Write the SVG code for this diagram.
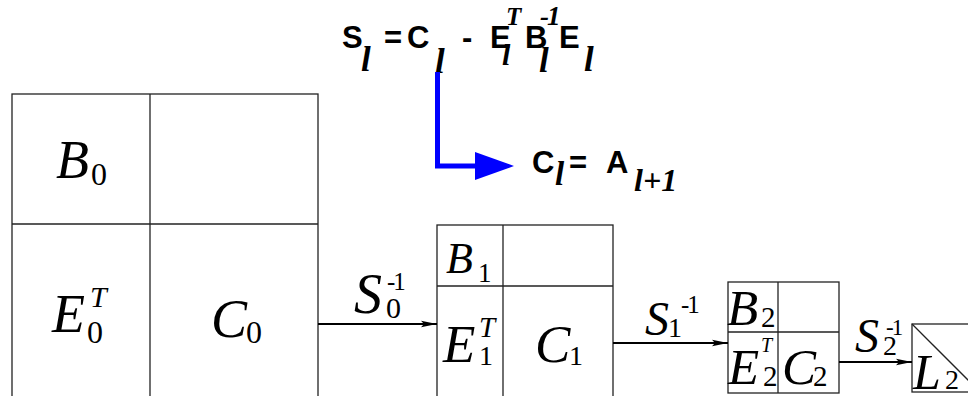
<svg xmlns="http://www.w3.org/2000/svg" width="968" height="396" viewBox="0 0 968 396">
<style>
.box{fill:none;stroke:#222;stroke-width:1.3}
.m{font-family:"Liberation Serif","Times New Roman",serif;font-style:italic;fill:#000}
.s{font-family:"Liberation Serif","Times New Roman",serif;fill:#000}
.f{font-family:"Liberation Sans",Arial,sans-serif;font-weight:bold;font-size:31px;fill:#000}
.fi{font-family:"Liberation Serif","Times New Roman",serif;font-weight:bold;font-style:italic;fill:#000}
.arr{stroke:#000;stroke-width:2;fill:none;marker-end:url(#ah)}
.sup{letter-spacing:-2px}
</style>
<defs>
<marker id="ah" markerUnits="userSpaceOnUse" markerWidth="18" markerHeight="8" refX="16" refY="4" orient="auto">
<path d="M0,0.8 L16,4 L0,7.2 L3,4 Z" fill="#000"/>
</marker>
</defs>
<rect width="968" height="396" fill="#fff"/>

<g id="formula">
<text class="f" x="342" y="48">S</text>
<text class="fi" x="361" y="71" font-size="35">l</text>
<text class="f" x="384" y="48">=</text>
<text class="f" x="407" y="48">C</text>
<text class="fi" x="435" y="73" font-size="35">l</text>
<text class="f" x="462" y="48" font-size="33">-</text>
<text class="f" x="490" y="48">E</text>
<text class="fi" x="502" y="65" font-size="30">l</text>
<text class="fi" x="506" y="25" font-size="25">T</text>
<text class="f" x="525" y="48">B</text>
<text class="fi" x="539" y="72" font-size="35">l</text>
<text class="fi sup" x="540" y="25" font-size="27">-1</text>
<text class="f" x="559" y="48">E</text>
<text class="fi" x="584" y="71" font-size="35">l</text>
</g>

<g id="formula2">
<text class="f" x="532" y="173">C</text>
<text class="fi" x="555" y="185" font-size="33">l</text>
<text class="f" x="569" y="173">=</text>
<text class="f" x="606" y="173">A</text>
<text class="fi" x="634" y="191" font-size="32">l+1</text>
</g>

<g id="blue-arrow">
<polyline points="437.5,72 437.5,166 477,166" fill="none" stroke="#0000ff" stroke-width="5"/>
<polygon points="475,152 514,166 475,180" fill="#0000ff"/>
</g>

<g id="matrix0">
<rect class="box" x="12" y="94" width="306" height="320"/>
<line class="box" x1="150" y1="94" x2="150" y2="414"/>
<line class="box" x1="12" y1="224" x2="318" y2="224"/>
<text class="m" x="56" y="178" font-size="54">B</text>
<text class="s" x="91" y="185" font-size="32">0</text>
<text class="m" x="52" y="332" font-size="54">E</text>
<text class="m" x="90" y="307" font-size="30">T</text>
<text class="s" x="87" y="343" font-size="32">0</text>
<text class="m" x="211" y="337" font-size="54">C</text>
<text class="s" x="246" y="343" font-size="32">0</text>
</g>

<g id="matrix1">
<rect class="box" x="437" y="225" width="176" height="190"/>
<line class="box" x1="503" y1="225" x2="503" y2="415"/>
<line class="box" x1="437" y1="286" x2="613" y2="286"/>
<text class="m" x="446" y="273" font-size="44">B</text>
<text class="s" x="478" y="282" font-size="27">1</text>
<text class="m" x="443" y="362" font-size="53">E</text>
<text class="m" x="479" y="337" font-size="29">T</text>
<text class="s" x="479" y="365" font-size="28">1</text>
<text class="m" x="535" y="362" font-size="53">C</text>
<text class="s" x="569" y="365" font-size="28">1</text>
</g>

<g id="matrix2">
<rect class="box" x="728" y="282" width="111" height="111"/>
<line class="box" x1="778" y1="282" x2="778" y2="393"/>
<line class="box" x1="728" y1="332" x2="839" y2="332"/>
<text class="m" x="727" y="325" font-size="51">B</text>
<text class="s" x="761" y="327" font-size="29">2</text>
<text class="m" x="728" y="384" font-size="51">E</text>
<text class="m" x="761" y="352" font-size="20">T</text>
<text class="s" x="763" y="386" font-size="29">2</text>
<text class="m" x="782" y="384" font-size="51">C</text>
<text class="s" x="813" y="386" font-size="29">2</text>
</g>

<g id="matrixL2">
<rect class="box" x="912" y="324" width="68" height="68"/>
<line class="box" x1="912" y1="324" x2="980" y2="392"/>
<text class="m" x="913" y="389" font-size="50">L</text>
<text class="s" x="945" y="389" font-size="28">2</text>
</g>

<g id="connectors">
<line class="arr" x1="318" y1="324" x2="437" y2="324"/>
<line class="arr" x1="613" y1="343" x2="728" y2="343"/>
<line class="arr" x1="839" y1="362" x2="912" y2="362"/>
</g>

<g id="labels">
<text class="m" x="354" y="313" font-size="56">S</text>
<text class="s" x="386" y="318" font-size="30">0</text>
<text class="s sup" x="387" y="290" font-size="25">-1</text>
<text class="m" x="645" y="335" font-size="48">S</text>
<text class="s" x="668" y="337" font-size="28">1</text>
<text class="s sup" x="681" y="313" font-size="25">-1</text>
<text class="m" x="855" y="352" font-size="48">S</text>
<text class="s" x="883" y="355" font-size="28">2</text>
<text class="s sup" x="886" y="335" font-size="23">-1</text>
</g>
</svg>
